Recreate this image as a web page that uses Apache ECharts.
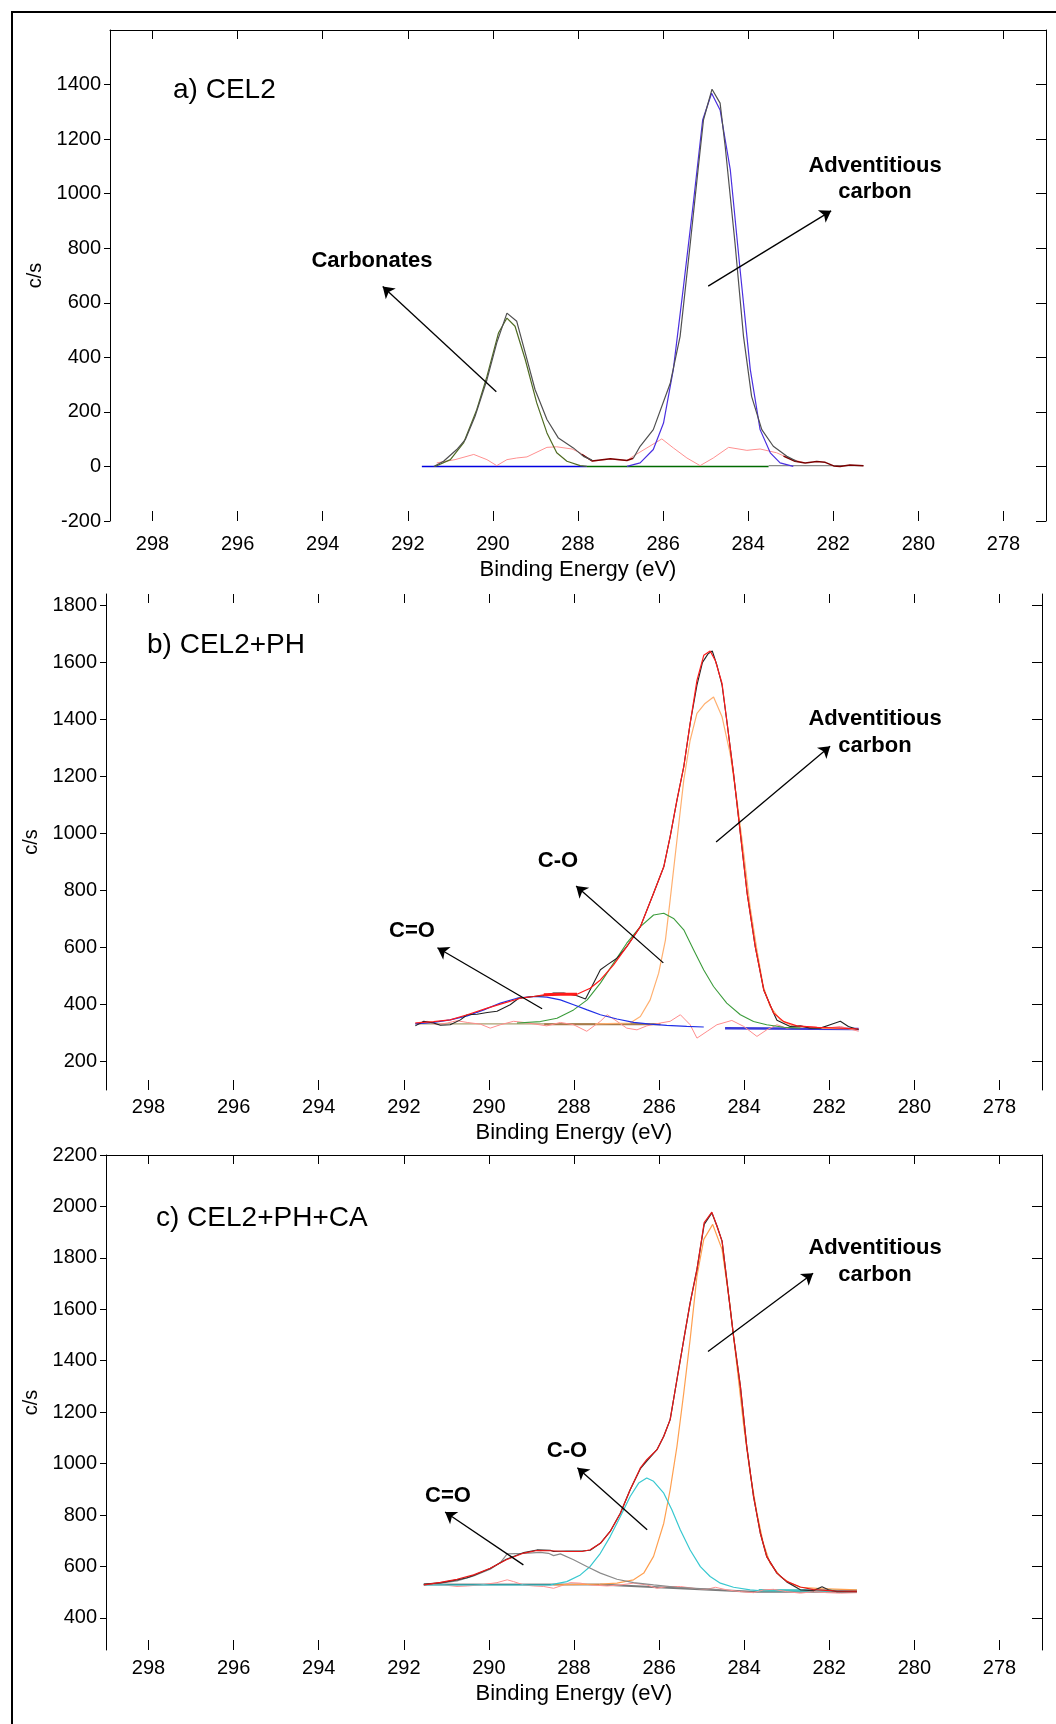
<!DOCTYPE html>
<html>
<head>
<meta charset="utf-8">
<script src="https://cdn.jsdelivr.net/npm/echarts@6/dist/echarts.min.js"></script>
<style>
html, body { margin: 0; padding: 0; background: #fff; }
#wrap { position: relative; width: 1056px; height: 1724px; overflow: hidden; }
#frame { position: absolute; left: 11px; top: 11px; width: 1100px; height: 1800px; border-left: 2px solid #000; border-top: 2px solid #000; }
#chart { position: absolute; left: 0; top: 0; width: 1056px; height: 1724px; }
</style>
</head>
<body>
<div id="wrap"><div id="frame"></div><div id="chart"></div></div>
<script>
// tick values
const xTicks = [298, 296, 294, 292, 290, 288, 286, 284, 282, 280, 278]
const yTicksA = [-200, 0, 200, 400, 600, 800, 1000, 1200, 1400]
const yTicksB = [200, 400, 600, 800, 1000, 1200, 1400, 1600, 1800]
const yTicksC = [400, 600, 800, 1000, 1200, 1400, 1600, 1800, 2000, 2200]

// a) CEL2  [binding energy, c/s]
const aEnvL = [[291.39,0],[291.16,19],[290.85,62],[290.65,98],[290.42,184],[290.14,318],[289.91,453],[289.67,562],[289.44,532],[289.24,416],[289.01,282],[288.73,172],[288.46,104],[288.11,68],[287.87,37],[287.67,23]]
const aEnvR = [[286.70,30],[286.54,74],[286.23,135],[285.83,306],[285.60,477],[285.36,819],[285.17,1100],[285.05,1271],[284.85,1383],[284.66,1332],[284.54,1173],[284.31,819],[284.11,477],[283.92,257],[283.68,135],[283.41,74],[283.09,37],[282.86,19]]
const aRawMid = [[287.91,44],[287.67,20],[287.24,28],[286.85,22],[286.70,30]]
const aRawEnd = [[283.17,38],[282.90,19],[282.66,13],[282.39,18],[282.19,15],[281.99,2],[281.84,0],[281.61,5],[281.29,3]]
const aCarb = [[291.36,0],[291.00,25],[290.69,86],[290.38,208],[290.14,330],[289.87,489],[289.67,544],[289.48,514],[289.24,392],[288.97,233],[288.73,123],[288.50,50],[288.26,19],[287.95,3],[287.79,0]]
const aAdv = [[286.85,0],[286.54,13],[286.23,62],[285.99,159],[285.76,355],[285.52,660],[285.29,965],[285.07,1270],[284.86,1368],[284.66,1307],[284.42,1087],[284.19,721],[283.95,355],[283.72,135],[283.48,50],[283.25,13],[282.94,0]]
const aResid = [[291.32,13],[290.89,25],[290.45,44],[290.14,25],[289.91,3],[289.67,25],[289.44,31],[289.20,35],[288.73,70],[288.50,72],[288.14,64],[287.95,50],[287.67,19],[287.24,27],[286.85,22],[286.70,38],[286.38,68],[286.03,101],[285.76,68],[285.44,31],[285.13,3],[284.82,31],[284.46,70],[284.03,59],[283.72,64],[283.33,50],[283.01,28],[282.70,14]]
const aBase1 = [[291.67,0],[287.79,0]]
const aBase2 = [[287.79,0],[283.52,0]]
const aBase3 = [[283.52,3],[281.29,3]]

// b) CEL2+PH
const bFit = [[291.73,335],[291.30,340],[290.91,346],[290.51,364],[290.04,387],[289.65,405],[289.26,422],[288.95,428],[288.71,434],[288.32,436],[287.93,436],[287.62,457],[287.38,486],[287.07,539],[286.76,603],[286.44,673],[286.13,790],[285.89,883],[285.74,989],[285.58,1117],[285.42,1234],[285.27,1386],[285.11,1537],[284.95,1625],[284.80,1640],[284.68,1607],[284.52,1526],[284.41,1397],[284.25,1210],[284.09,1000],[283.93,790],[283.74,603],[283.54,451],[283.31,370],[283.07,340],[282.76,325],[282.29,320],[281.74,317],[281.31,314]]
const bFitHi = [[288.71,434],[288.32,436],[287.93,436]]
const bRaw = [[291.73,325],[291.53,341],[291.30,335],[291.14,327],[290.91,329],[290.67,346],[290.51,364],[290.28,366],[290.04,372],[289.81,376],[289.50,399],[289.30,422],[288.95,428],[288.71,431],[288.48,440],[288.24,440],[287.93,431],[287.73,419],[287.58,463],[287.38,522],[287.22,539],[286.99,562],[286.76,603],[286.44,673],[286.13,790],[285.89,883],[285.74,989],[285.58,1117],[285.42,1234],[285.27,1386],[285.11,1520],[284.98,1600],[284.85,1630],[284.75,1640],[284.64,1590],[284.52,1520],[284.41,1397],[284.25,1210],[284.09,1000],[283.93,790],[283.74,603],[283.54,451],[283.31,370],[283.23,345],[282.92,323],[282.68,325],[282.45,317],[282.21,317],[281.98,329],[281.74,341],[281.55,323],[281.31,311]]
const bAdv = [[287.50,332],[286.68,335],[286.44,358],[286.21,416],[286.01,510],[285.85,627],[285.74,767],[285.58,977],[285.42,1187],[285.27,1327],[285.11,1421],[284.92,1456],[284.72,1479],[284.52,1409],[284.33,1280],[284.17,1117],[284.01,930],[283.86,743],[283.70,592],[283.55,463],[283.39,393],[283.15,346],[282.84,323],[282.29,317],[281.35,314]]
const bCO = [[289.34,335],[288.79,340],[288.40,352],[288.01,381],[287.69,416],[287.38,475],[287.07,545],[286.76,615],[286.44,673],[286.13,714],[285.89,720],[285.66,702],[285.42,662],[285.19,592],[284.95,521],[284.72,463],[284.41,405],[284.09,364],[283.78,340],[283.47,329],[283.07,320],[282.68,317]]
const bCdO = [[291.73,332],[291.30,337],[290.91,346],[290.51,360],[290.12,381],[289.73,405],[289.34,422],[288.95,428],[288.64,426],[288.32,416],[288.01,399],[287.69,381],[287.38,364],[286.99,349],[286.60,337],[286.21,331],[285.82,327],[285.35,323],[284.95,321]]
const bResid = [[291.73,335],[291.45,341],[291.22,329],[290.98,335],[290.75,343],[290.51,337],[290.20,331],[289.97,317],[289.73,329],[289.42,341],[289.18,337],[288.95,332],[288.64,325],[288.32,337],[288.01,329],[287.70,306],[287.38,341],[287.22,364],[286.99,341],[286.76,317],[286.52,311],[286.29,325],[285.97,335],[285.74,341],[285.50,364],[285.27,329],[285.11,282],[284.87,306],[284.64,329],[284.29,344],[284.01,323],[283.70,288],[283.47,311],[283.23,329],[283.00,317],[282.68,323],[282.37,321],[282.06,317],[281.74,323],[281.31,306]]
const bBase1 = [[291.73,332],[285.97,332]]
const bBase2 = [[288.70,331],[285.97,331]]
const bBase3 = [[284.45,317],[281.31,314]]

// c) CEL2+PH+CA
const cFit = [[291.53,528],[291.14,538],[290.75,550],[290.36,567],[289.97,593],[289.59,626],[289.18,652],[288.87,662],[288.56,661],[288.17,658],[287.81,658],[287.62,665],[287.38,690],[287.15,736],[286.91,807],[286.68,898],[286.44,983],[286.29,1015],[286.05,1054],[285.89,1106],[285.74,1171],[285.58,1327],[285.42,1482],[285.27,1625],[285.11,1755],[284.94,1937],[284.76,1978],[284.64,1924],[284.52,1865],[284.41,1716],[284.25,1495],[284.09,1301],[283.94,1067],[283.78,872],[283.62,729],[283.47,638],[283.23,574],[283.00,542],[282.68,520],[282.37,510],[282.17,508],[281.90,505],[281.35,504]]
const cRaw = [[291.53,531],[291.14,536],[290.75,548],[290.51,556],[290.36,565],[289.97,592],[289.59,628],[289.18,654],[288.87,664],[288.56,663],[288.48,658],[288.17,660],[287.81,660],[287.62,663],[287.38,690],[287.15,736],[286.91,807],[286.68,898],[286.44,980],[286.29,1010],[286.05,1054],[285.89,1106],[285.74,1171],[285.58,1327],[285.42,1482],[285.27,1625],[285.11,1755],[284.94,1930],[284.76,1975],[284.64,1924],[284.52,1865],[284.41,1716],[284.25,1495],[284.09,1301],[283.94,1067],[283.78,872],[283.62,729],[283.47,638],[283.23,574],[283.00,540],[282.68,509],[282.37,506],[282.17,521],[282.02,509],[281.82,502],[281.35,502]]
const cAdv = [[288.48,528],[287.80,530],[287.38,531],[286.99,535],[286.60,548],[286.36,574],[286.13,639],[285.89,768],[285.74,898],[285.58,1067],[285.42,1275],[285.27,1483],[285.11,1729],[284.95,1872],[284.74,1930],[284.52,1833],[284.33,1612],[284.17,1379],[284.01,1145],[283.86,963],[283.70,807],[283.55,690],[283.39,612],[283.15,561],[282.92,535],[282.68,519],[282.21,514],[281.35,509]]
const cCO = [[291.53,528],[288.56,528],[288.17,541],[287.85,567],[287.62,600],[287.38,651],[287.15,716],[286.91,794],[286.68,872],[286.48,924],[286.29,944],[286.13,931],[285.89,885],[285.70,820],[285.50,742],[285.27,664],[285.03,599],[284.80,561],[284.56,535],[284.25,519],[283.86,509],[283.66,506]]
const cCdO = [[291.53,528],[291.14,535],[290.75,544],[290.36,563],[289.97,589],[289.73,615],[289.57,649],[289.18,651],[288.79,655],[288.60,651],[288.48,642],[288.32,649],[288.01,626],[287.70,600],[287.38,574],[286.99,550],[286.60,537],[286.13,528],[285.58,519],[284.60,510]]
const cResid = [[291.53,531],[291.06,528],[290.75,522],[290.51,524],[290.20,528],[289.81,537],[289.57,548],[289.42,541],[289.18,528],[288.95,524],[288.71,522],[288.48,515],[288.24,528],[288.09,537],[287.85,535],[287.62,528],[287.22,524],[286.91,528],[286.60,535],[286.29,528],[286.05,515],[285.82,522],[285.50,522],[285.19,515],[284.87,511],[284.68,519],[284.41,509],[284.09,502],[283.78,498],[283.54,509],[283.31,511],[283.00,502],[282.68,496],[282.37,502],[282.06,498],[281.74,496],[281.35,498]]
const cBase1 = [[291.53,530],[287.40,530]]
const cBase2 = [[287.40,530],[283.80,502],[281.35,502]]
const cBase3 = [[283.66,507],[281.35,505]]

// arrows: [tail, head]
const aArrows = [[[289.92,274],[292.59,660]], [[284.94,661],[282.05,937]]]
const bArrows = [[[284.66,970],[281.98,1306]], [[285.90,546],[287.95,816]], [[288.75,385],[291.21,599]]]
const cArrows = [[[284.85,1436],[282.38,1740]], [[286.28,743],[287.92,984]], [[289.19,606],[291.03,812]]]

const FONT = '"Liberation Sans", Arial, sans-serif'
const lbl = { fontSize: 20, color: '#000', fontFamily: FONT, formatter: v => String(v) }

function xAxes(g, topLine, margin, nameGap) {
  const base = { type: 'value', gridIndex: g, min: 277, max: 299, inverse: true, splitLine: { show: false } }
  return [
    Object.assign({}, base, {
      position: 'bottom',
      axisLine: { show: false, onZero: false },
      axisTick: { inside: true, length: 10, customValues: xTicks, lineStyle: { color: '#000' } },
      axisLabel: Object.assign({ customValues: xTicks, margin: margin }, lbl),
      name: 'Binding Energy (eV)', nameLocation: 'middle', nameGap: nameGap,
      nameTextStyle: { fontSize: 22, color: '#000', fontFamily: FONT }
    }),
    Object.assign({}, base, {
      position: 'top',
      axisLine: { show: topLine, onZero: false, lineStyle: { color: '#000' } },
      axisTick: { inside: true, length: 9, customValues: xTicks, lineStyle: { color: '#000' } },
      axisLabel: { show: false }
    })
  ]
}
function yAxes(g, min, max, ticks) {
  const base = { type: 'value', gridIndex: g, min: min, max: max, splitLine: { show: false } }
  return [
    Object.assign({}, base, {
      position: 'left',
      axisLine: { show: true, onZero: false, lineStyle: { color: '#000' } },
      axisTick: { inside: false, length: 6, customValues: ticks, lineStyle: { color: '#000' } },
      axisLabel: Object.assign({ customValues: ticks, margin: 9 }, lbl),
      name: 'c/s', nameLocation: 'middle', nameRotate: 90, nameGap: 58,
      nameTextStyle: { fontSize: 20, color: '#000', fontFamily: FONT }
    }),
    Object.assign({}, base, {
      position: 'right',
      axisLine: { show: true, onZero: false, lineStyle: { color: '#000' } },
      axisTick: { inside: true, length: 10, customValues: ticks, lineStyle: { color: '#000' } },
      axisLabel: { show: false }
    })
  ]
}
function line(g, data, color, width, z) {
  return {
    type: 'line', xAxisIndex: g * 2, yAxisIndex: g * 2, data: data,
    symbol: 'none', showSymbol: false, silent: true, z: z || 2,
    lineStyle: { color: color, width: width }, itemStyle: { color: color }
  }
}
function arrows(g, list) {
  const s = line(g, [], '#000', 1, 10)
  s.markLine = {
    silent: true, animation: false, symbol: ['none', 'arrow'], symbolSize: 11,
    label: { show: false },
    lineStyle: { color: '#000', width: 1.3, type: 'solid' },
    emphasis: { disabled: true },
    data: list.map(p => [{ coord: p[0] }, { coord: p[1] }])
  }
  return s
}
function txt(x, y, text, size, bold, align) {
  return {
    type: 'text', x: x, y: y, silent: true, z: 100,
    style: { text: text, font: (bold ? 'bold ' : '') + size + 'px ' + FONT, fill: '#000', align: align || 'left', verticalAlign: 'middle' }
  }
}

const chart = echarts.init(document.getElementById('chart'), null, { renderer: 'canvas' })
chart.setOption({
  animation: false,
  grid: [
    { left: 110, top: 30, width: 936, height: 491 },
    { left: 106, top: 594, width: 936, height: 496 },
    { left: 106, top: 1155, width: 936, height: 495 }
  ],
  xAxis: [].concat(xAxes(0, true, 13, 38), xAxes(1, false, 7, 32), xAxes(2, true, 8, 33)),
  yAxis: [].concat(yAxes(0, -200, 1600, yTicksA), yAxes(1, 100, 1840, yTicksB), yAxes(2, 275, 2200, yTicksC)),
  series: [
    // a
    line(0, aBase1, '#0000e0', 1.6),
    line(0, aBase2, '#006a00', 1.6),
    line(0, aBase3, '#8a8a8a', 1.4),
    line(0, aResid, '#ff9090', 1),
    line(0, aCarb, '#4f6b22', 1.2),
    line(0, aAdv, '#4a2fe0', 1.2),
    line(0, aRawMid, '#7a0000', 1.5),
    line(0, aRawEnd, '#7a0000', 1.5),
    line(0, aEnvL, '#505050', 1.2, 3),
    line(0, aEnvR, '#505050', 1.2, 3),
    arrows(0, aArrows),
    // b
    line(1, bBase1, '#a8a070', 1.2),
    line(1, bBase2, '#a87a4a', 2),
    line(1, bBase3, '#3a3ad8', 2.5),
    line(1, bResid, '#ff8c8c', 1),
    line(1, bAdv, '#ffb070', 1.2),
    line(1, bCO, '#3c9c3c', 1.1),
    line(1, bCdO, '#1f2fe6', 1.2),
    line(1, bRaw, '#222222', 1.1, 3),
    line(1, bFit, '#ff1a1a', 1.2, 4),
    line(1, bFitHi, '#ff1a1a', 3, 4),
    arrows(1, bArrows),
    // c
    line(2, cBase1, '#222222', 1.5),
    line(2, cBase2, '#7a7a7a', 2),
    line(2, cBase3, '#40c4c4', 2.5),
    line(2, cResid, '#ff9090', 1),
    line(2, cAdv, '#ffa050', 1.2),
    line(2, cCO, '#38c8d0', 1.2),
    line(2, cCdO, '#8a8a8a', 1.2),
    line(2, cRaw, '#303030', 1.2, 3),
    line(2, cFit, '#e81818', 1.2, 4),
    arrows(2, cArrows)
  ],
  graphic: [
    txt(173, 90, 'a) CEL2', 28),
    txt(372, 261, 'Carbonates', 22, true, 'center'),
    txt(875, 166, 'Adventitious', 22, true, 'center'),
    txt(875, 192, 'carbon', 22, true, 'center'),
    txt(147, 645, 'b) CEL2+PH', 28),
    txt(875, 719, 'Adventitious', 22, true, 'center'),
    txt(875, 746, 'carbon', 22, true, 'center'),
    txt(558, 861, 'C-O', 22, true, 'center'),
    txt(412, 931, 'C=O', 22, true, 'center'),
    txt(156, 1218, 'c) CEL2+PH+CA', 28),
    txt(875, 1248, 'Adventitious', 22, true, 'center'),
    txt(875, 1275, 'carbon', 22, true, 'center'),
    txt(567, 1451, 'C-O', 22, true, 'center'),
    txt(448, 1496, 'C=O', 22, true, 'center')
  ]
})
</script>
</body>
</html>
